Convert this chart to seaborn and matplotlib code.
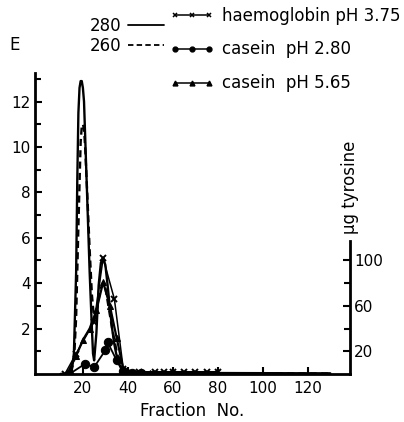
import numpy as np
import matplotlib
matplotlib.use("Agg")
import matplotlib.pyplot as plt
from matplotlib.lines import Line2D
import seaborn as sns

sns.set_style("ticks")
plt.rcParams["font.family"] = ["DejaVu Sans"]
for k in ["text.color", "axes.labelcolor", "xtick.color", "ytick.color", "axes.edgecolor"]:
    plt.rcParams[k] = "black"

# ── Extinction curves (E) ──────────────────────────────
frac_280 = [10, 14, 15, 16, 17, 17.5, 18, 18.5, 19, 19.5, 20, 20.5, 21, 22, 23, 24,
            24.5, 25, 26, 27, 28, 29, 30, 31, 32, 33, 34, 35, 36, 37, 38, 40, 60, 90, 130]
e_280 = [0, 0, 0.1, 0.9, 4.5, 8.5, 11.5, 12.6, 12.9, 12.9, 12.6, 12.0, 10.5, 7.5, 4.5, 2.0,
         0.9, 0.6, 1.8, 3.9, 4.9, 5.1, 4.8, 3.9, 2.9, 2.0, 1.3, 0.8, 0.45, 0.25, 0.12, 0.06, 0.05, 0.04, 0.03]

frac_260 = [10, 14, 16, 17, 18, 19, 19.5, 20, 20.5, 21, 22, 23, 24, 25, 26, 27, 28, 29,
            30, 31, 32, 33, 34, 35, 36, 37, 38, 40, 60, 90, 130]
e_260 = [0, 0, 0.5, 2.5, 6.5, 10.2, 10.9, 11.0, 10.8, 10.0, 7.8, 5.5, 3.5, 2.4, 2.6, 3.3, 3.8, 4.0,
         3.8, 3.2, 2.6, 2.0, 1.5, 1.0, 0.6, 0.3, 0.15, 0.05, 0.04, 0.03, 0.02]

# ── Tyrosine (ug) ──────────────────────────────────────
frac_haemo = [12, 17, 25, 29, 34, 38, 45, 52, 56, 60, 65, 70, 75, 80]
tyr_haemo = [0, 18, 46, 102, 66, 4, 2, 2, 2, 2, 2, 2, 2, 2]

frac_cas28 = [14, 21, 25, 30, 31, 35, 38, 42, 46]
tyr_cas28 = [0, 9, 6, 21, 28, 12, 3, 0.5, 0.5]

frac_cas56 = [13, 17, 20, 23, 26, 29, 32, 35, 38, 42, 50]
tyr_cas56 = [0, 16, 30, 40, 56, 81, 60, 32, 4, 1, 0.6]

dash = (0, (3.0, 1.8))

fig = plt.figure(figsize=(4.04, 4.22), dpi=100)
ax = fig.add_axes([0.0866, 0.1137, 0.7794, 0.713])

sns.lineplot(x=frac_280, y=e_280, ax=ax, color="black", lw=1.7, sort=False)
sns.lineplot(x=frac_260, y=e_260, ax=ax, color="black", lw=1.7, ls=dash, sort=False)

ax.set_xlim(-1.3, 138.7)
ax.set_ylim(0, 13.25)
ax.set_xticks([20, 40, 60, 80, 100, 120])
ax.set_yticks([2, 4, 6, 8, 10, 12])
ax.set_yticks(np.arange(1, 14, 2), minor=True)
ax.tick_params(direction="in", length=5, width=1.5, labelsize=11, pad=3)
ax.tick_params(axis="x", pad=5)
ax.tick_params(which="minor", direction="in", length=4, width=1.5)
for s in ["top", "right"]:
    ax.spines[s].set_visible(False)
for s in ["left", "bottom"]:
    ax.spines[s].set_linewidth(2)
ax.set_xlabel("Fraction  No.", fontsize=12, labelpad=4)

ax2 = ax.twinx()
sns.lineplot(x=frac_haemo, y=tyr_haemo, ax=ax2, color="black", lw=1.1,
             marker="x", markersize=5, markeredgewidth=1.4, markeredgecolor="black")
sns.lineplot(x=frac_cas28, y=tyr_cas28, ax=ax2, color="black", lw=1.3,
             marker="o", markersize=6, markeredgecolor="black")
sns.lineplot(x=frac_cas56, y=tyr_cas56, ax=ax2, color="black", lw=1.6,
             marker="^", markersize=5, markeredgecolor="black")
ax2.set_ylim(0, 265)
ax2.set_yticks([20, 60, 100])
ax2.set_yticks([40, 80], minor=True)
ax2.tick_params(direction="in", length=5, width=1.5, labelsize=11, pad=3)
ax2.tick_params(which="minor", direction="in", length=4, width=1.5)
for s in ["top", "left", "bottom"]:
    ax2.spines[s].set_visible(False)
ax2.spines["right"].set_linewidth(2)
ax2.spines["right"].set_bounds(0, 117)

fig.text(0.035, 0.893, "E", fontsize=12, ha="center", va="center")
fig.text(0.866, 0.555, "\u00b5g tyrosine", fontsize=12, rotation=90, ha="center", va="center")

h_lines = [Line2D([], [], color="black", lw=1.3),
           Line2D([], [], color="black", lw=1.3, ls=dash)]
fig.legend(h_lines, ["280", "260"], loc="upper left", bbox_to_anchor=(0.205, 0.975),
           frameon=False, markerfirst=False, handlelength=2.2, handletextpad=0.4,
           fontsize=12, labelspacing=0.1, borderaxespad=0)

h_marks = [Line2D([], [], color="black", lw=1.1, marker="x", markersize=3.5, markeredgewidth=1.1),
           Line2D([], [], color="black", lw=1.1, marker="o", markersize=3.5),
           Line2D([], [], color="black", lw=1.1, marker="^", markersize=3.5)]
fig.legend(h_marks, ["haemoglobin pH 3.75", "casein  pH 2.80", "casein  pH 5.65"],
           loc="upper left", bbox_to_anchor=(0.405, 1.0), frameon=False, numpoints=3,
           handlelength=2.6, handletextpad=0.5, fontsize=12, labelspacing=0.95,
           borderaxespad=0)

plt.savefig("out.png", dpi=100)
